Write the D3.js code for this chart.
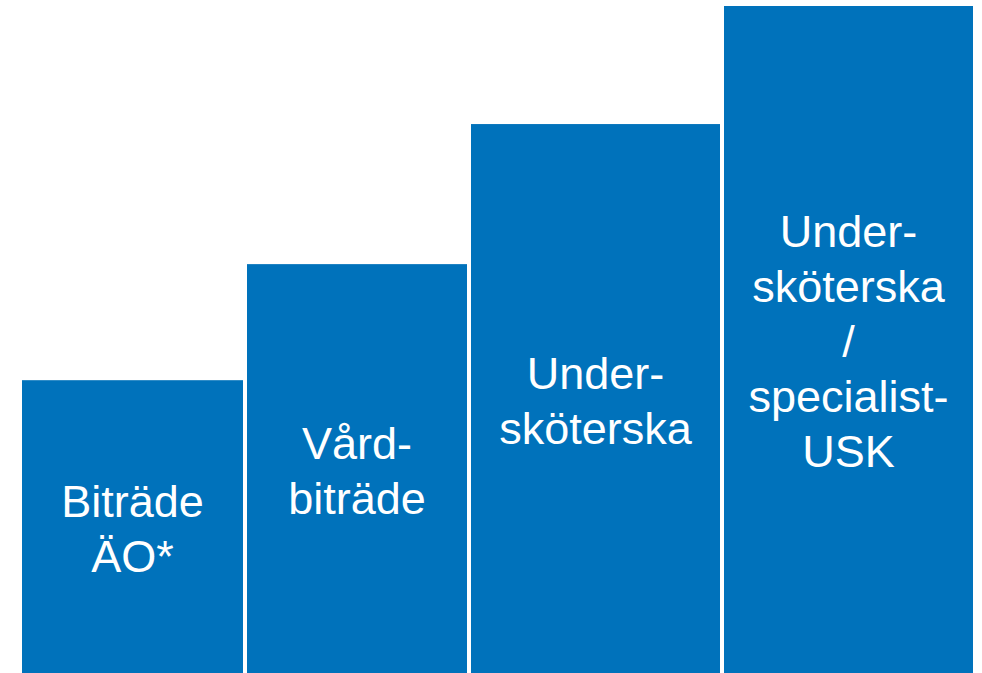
<!DOCTYPE html>
<html>
<head>
<meta charset="utf-8">
<script src="https://cdn.jsdelivr.net/npm/d3@7"></script>
<style>
  html, body { margin: 0; padding: 0; background: #ffffff; }
  svg { display: block; }
</style>
</head>
<body>
<svg id="chart" width="982" height="673"></svg>
<script>
// ---- data ----
const categories = ["Biträde ÄO*", "Vårdbiträde", "Undersköterska", "Undersköterska / specialist-USK"];
const labelLines = [
  ["Biträde", "ÄO*"],
  ["Vård-", "biträde"],
  ["Under-", "sköterska"],
  ["Under-", "sköterska", "/", "specialist-", "USK"]
];
const values = [43.9, 61.3, 82.3, 100];

// ---- layout ----
const plotLeft = 22, plotTop = 6, plotBottom = 673;
const gap = 4;
const slotWidths = [225, 224, 253, 253];
const barColor = "#0072BB";
const fontSize = 45, lineHeight = 55, baselineShift = 17.5;

const svg = d3.select("#chart");

const y = d3.scaleLinear().domain([0, 100]).range([plotBottom, plotTop]);

const totalW = d3.sum(slotWidths);
const x = d3.scaleLinear().domain([0, totalW]).range([plotLeft, plotLeft + totalW]);
const starts = [];
let acc = 0;
slotWidths.forEach(w => { starts.push(acc); acc += w; });

const data = categories.map((c, i) => ({
  cat: c, value: values[i], lines: labelLines[i],
  x0: x(starts[i]), x1: x(starts[i] + slotWidths[i]) - gap
}));

const g = svg.append("g");

g.selectAll("rect.bar")
  .data(data)
  .join("rect")
  .attr("class", "bar")
  .attr("x", d => d.x0)
  .attr("width", d => d.x1 - d.x0)
  .attr("y", d => y(d.value))
  .attr("height", d => y(0) - y(d.value))
  .attr("fill", barColor);

const labels = g.selectAll("text.lbl")
  .data(data)
  .join("text")
  .attr("class", "lbl")
  .attr("text-anchor", "middle")
  .attr("font-family", "Arial, 'Liberation Sans', sans-serif")
  .attr("font-size", fontSize)
  .attr("fill", "#ffffff");

labels.each(function(d) {
  const cx = (d.x0 + d.x1) / 2;
  const cy = (y(d.value) + y(0)) / 2;
  const n = d.lines.length;
  const firstBase = cy + baselineShift - (n - 1) / 2 * lineHeight;
  d3.select(this).selectAll("tspan")
    .data(d.lines)
    .join("tspan")
    .attr("x", cx)
    .attr("y", (t, j) => firstBase + j * lineHeight)
    .text(t => t);
});
</script>
</body>
</html>
